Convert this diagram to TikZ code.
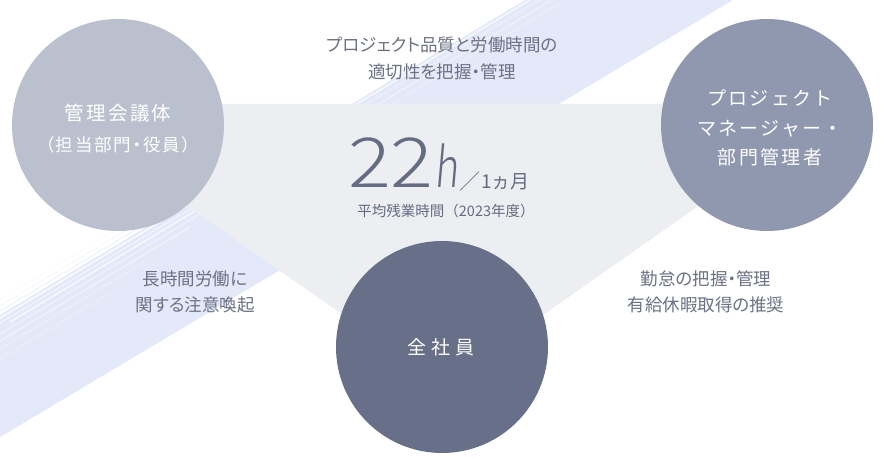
\documentclass[tikz,border=0pt]{standalone}
\usepackage{fontspec}
\setmainfont{Noto Sans CJK JP}
\IfFontExistsTF{Noto Sans CJK JP Light}{\newfontfamily\lightfont{Noto Sans CJK JP Light}}{\newfontfamily\lightfont{Noto Sans CJK JP}}
\newfontfamily\spacedfont{Noto Sans CJK JP}[LetterSpace=12]
\newfontfamily\pspacedfont{Noto Sans CJK JP}[LetterSpace=10,RawFeature=+palt]
\newfontfamily\widefont{Noto Sans CJK JP}[LetterSpace=24]
\newfontfamily\pfont{Noto Sans CJK JP}[RawFeature=+palt]
\definecolor{bandc}{HTML}{E4E9FA}
\definecolor{tric}{HTML}{EDEEF2}
\definecolor{cgov}{HTML}{BBC0CF}
\definecolor{cpm}{HTML}{9098B0}
\definecolor{call}{HTML}{686F88}
\definecolor{txtc}{HTML}{6C7183}
\definecolor{numc}{HTML}{656C82}
\tikzset{
  bubble/.style={circle, minimum size=212pt, inner sep=0pt, draw=none},
  lbl/.style={text=txtc, align=center, inner sep=0pt, font=\pfont\fontsize{17.5pt}{26.5pt}\selectfont},
  intext/.style={text=white, align=center, inner sep=0pt},
  numtxt/.style={text=numc, inner sep=0pt},
  streak/.style={white, line cap=round},
}
\begin{document}
\begin{tikzpicture}[x=1pt,y=-1pt]
\useasboundingbox (0,0) rectangle (886,465);
\fill[white] (0,0) rectangle (886,465);
% diagonal band
\fill[bandc] (0,315) -- (525,0) -- (733,0) -- (0,437) -- cycle;
\foreach \d/\w/\o/\a/\b in {3/1.4/0.9/0/280, 8/0.7/0.8/0/250, 13/1.6/0.7/10/230, 19/0.8/0.6/0/210, 26/1.2/0.5/0/190, 34/0.6/0.45/0/150, 44/0.8/0.35/0/110,
  3/1.2/0.8/330/540, 9/0.6/0.6/340/545, 16/1.0/0.5/350/550, 24/0.6/0.4/360/560}
  \draw[streak, line width=\w, opacity=\o] (\a,{315-0.6*\a+\d}) -- (\b,{315-0.6*\b+\d});
\foreach \d/\w/\o in {-4/0.8/0.6, -9/0.6/0.4, -15/0.6/0.3}
  \draw[bandc, line width=\w, opacity=\o] (0,{315+\d}) -- (200,{315-120+\d});
% triangle
\fill[tric] (42,104) -- (844,104) -- (443,385) -- cycle;
% circles
\node[bubble, fill=cgov] (gov) at (118,125) {};
\node[bubble, fill=cpm] (pm) at (767,125) {};
\node[bubble, fill=call] (all) at (442,347) {};
% circle texts
\node[intext, font=\spacedfont\fontsize{19.5pt}{24pt}\selectfont] (govt1) at (118,113) {管理会議体};
\node[intext, font=\pspacedfont\fontsize{17.5pt}{20pt}\selectfont] (govt2) at (118,145) {（担当部門・役員）};
\node[intext, font=\spacedfont\fontsize{19pt}{29.5pt}\selectfont] (pmt) at (770,128) {プロジェクト\\マネージャー・\\部門管理者};
\node[intext, font=\widefont\fontsize{19pt}{24pt}\selectfont] (allt) at (441,347) {全社員};
% outer labels
\node[lbl, font=\pfont\fontsize{17.5pt}{27pt}\selectfont] (top) at (442,58) {プロジェクト品質と労働時間の\\適切性を把握・管理};
\node[lbl] (left) at (195,292) {長時間労働に\\関する注意喚起};
\node[lbl] (right) at (706,292) {勤怠の把握・管理\\有給休暇取得の推奨};
% central figure
\node[numtxt, anchor=base east, xscale=1.16, font=\lightfont\fontsize{69pt}{70pt}\selectfont] (num) at (434,188) {22};
\node[numtxt, anchor=base west, xscale=0.74, xslant=0.12, font=\lightfont\fontsize{55pt}{57pt}\selectfont] (unit) at (434,188) {h};
\node[numtxt, anchor=base west, font=\lightfont\fontsize{21pt}{24pt}\selectfont] (slash) at (459,190) {／};
\node[numtxt, anchor=base west, font=\fontsize{19pt}{21pt}\selectfont] (per) at (481,189) {1ヵ月};
\node[numtxt, font=\fontsize{14.5pt}{17pt}\selectfont] (sub) at (446,211) {平均残業時間（2023年度）};
\end{tikzpicture}
\end{document}
